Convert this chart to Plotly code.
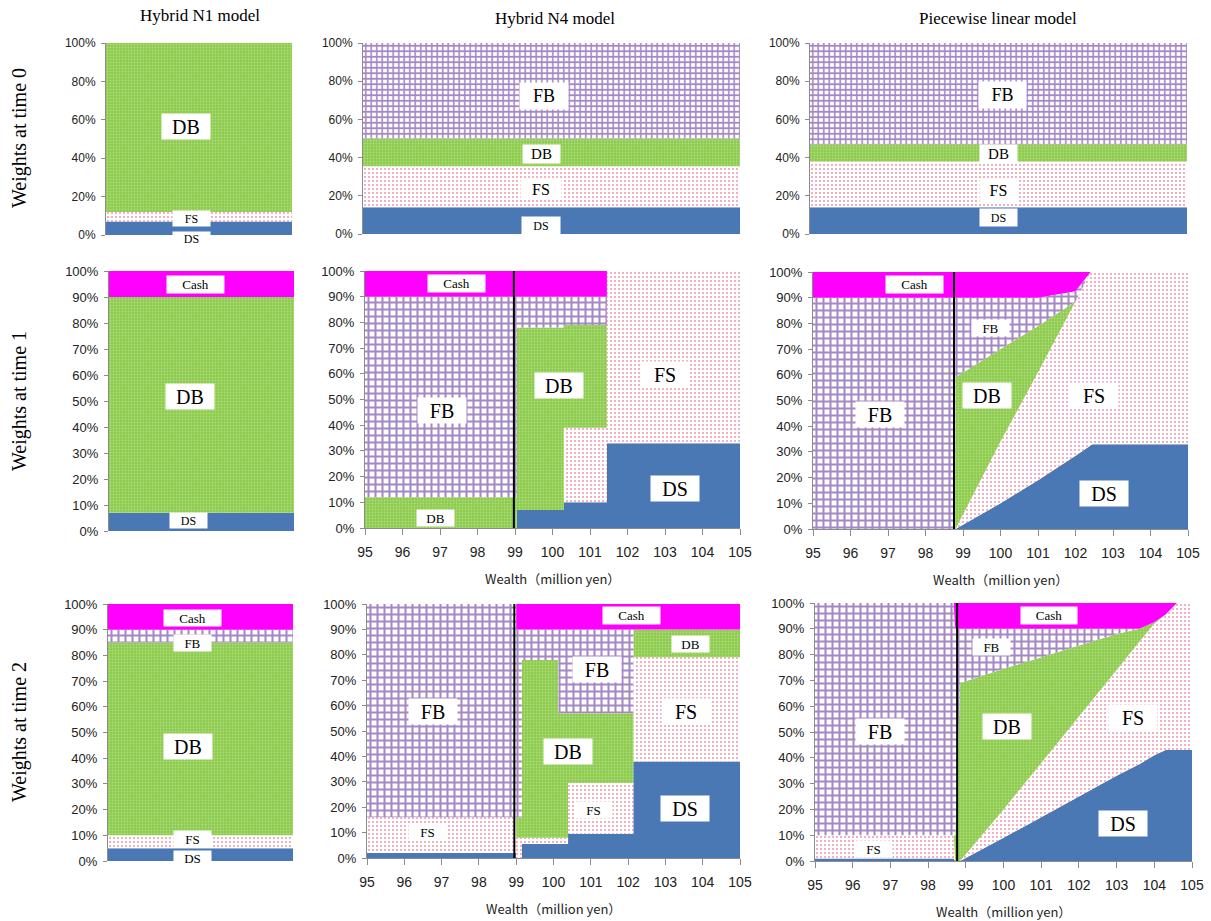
import plotly.graph_objects as go

W, H = 1211, 921

ASSETS = ["DS", "FS", "DB", "FB", "Cash"]
wealth_ticks = [95, 96, 97, 98, 99, 100, 101, 102, 103, 104, 105]

# ---- time 0: one portfolio per model (percent, order = ASSETS)
n1_t0 = [7, 5, 88, 0, 0]
n4_t0 = [14, 21.5, 14.5, 50, 0]
pl_t0 = [14, 24, 9, 53, 0]

# ---- Hybrid N1 model: a single portfolio at each later date
n1_t1 = [7, 0, 83, 0, 10]
n1_t2 = [5, 5, 75, 5, 10]

# ---- Hybrid N4 model, time 1 (weights held until the next wealth level)
n4_t1_wealth = [95, 99.05, 100.3, 101.45, 105]
n4_t1_ds = [0, 7, 10, 33, 33]
n4_t1_fs = [0, 0, 29, 67, 67]
n4_t1_db = [12, 71, 40, 0, 0]
n4_t1_fb = [78, 12, 11, 0, 0]
n4_t1_cash = [10, 10, 10, 0, 0]

# ---- Hybrid N4 model, time 2
n4_t2_wealth = [95, 99.0, 99.15, 100.13, 100.39, 102.14, 105]
n4_t2_ds = [2, 0, 5.5, 5.5, 9.5, 38, 38]
n4_t2_fs = [14, 8, 2.5, 2.5, 20, 41, 41]
n4_t2_db = [0, 8, 70, 49, 27.5, 11, 11]
n4_t2_fb = [84, 74, 12, 33, 33, 0, 0]
n4_t2_cash = [0, 10, 10, 10, 10, 10, 10]

# ---- Piecewise linear model, time 1
pl_t1_wealth = [95, 98.78, 98.8, 100, 101, 102, 102.4, 102.45, 105]
pl_t1_ds = [0, 0, 0, 10, 19, 28.5, 32.5, 33, 33]
pl_t1_fs = [0, 0, 0, 24, 42, 60, 67.5, 67, 67]
pl_t1_db = [0, 0, 59, 36, 18, 0, 0, 0, 0]
pl_t1_fb = [90, 90, 31, 20, 11, 4, 0, 0, 0]
pl_t1_cash = [10, 10, 10, 10, 10, 7.5, 0, 0, 0]

# ---- Piecewise linear model, time 2
pl_t2_wealth = [95, 98.68, 98.72, 98.85, 100, 101, 102, 103, 103.6, 104, 104.3, 104.6, 105]
pl_t2_ds = [1, 1, 0, 0, 9, 17, 25, 33, 37.5, 41, 43, 43, 43]
pl_t2_fs = [9, 9, 0, 0, 11, 21, 31, 41, 47.5, 51, 52.5, 57, 57]
pl_t2_db = [0, 0, 10, 69, 54.5, 41, 27.5, 14, 5, 0.5, 0, 0, 0]
pl_t2_fb = [90, 90, 80, 21, 15.5, 11, 6.5, 2, 0, 0, 0, 0, 0]
pl_t2_cash = [0, 0, 10, 10, 10, 10, 10, 10, 10, 7.5, 4.5, 0, 0]

# wealth at which the funding threshold is crossed
n4_t1_threshold = 98.97
n4_t2_threshold = 98.95
pl_t1_threshold = 98.76
pl_t2_threshold = 98.77

col_titles = ["Hybrid N1 model", "Hybrid N4 model", "Piecewise linear model"]
row_titles = ["Weights at time 0", "Weights at time 1", "Weights at time 2"]
x_title = "Wealth（million yen）"


def flat(weights, lo, hi):
    return [lo, hi], [[w, w] for w in weights]


def px_x(v):
    return v / W


def px_y(v):
    return 1 - v / H


SERIF = "Liberation Serif"
SANS = "Liberation Sans"

# label boxes: (text, x, y, font size, box width, box height, vertical nudge px)
BIG, SMALL = (20, 48, 25, 0), (13, 37, 16, 0)

panels = []
x, s = flat(n1_t0, 0, 1)
panels.append(dict(px=(106, 292, 43, 235), x=x, s=s, shape="linear", xr=[0, 1], dy=20,
                   axis=False, grid=5.5, thr=None,
                   labels=[("DB", 0.43, 56.5, *BIG), ("FS", 0.457, 8.7, 12, 37, 15, 0),
                           ("DS", 0.457, 0, 12, 37, 14, -4)]))
x, s = flat(n4_t0, 95, 105)
panels.append(dict(px=(363, 740, 43, 234), x=x, s=s, shape="linear", xr=[95, 105], dy=20,
                   axis=False, grid=5.5, thr=None,
                   labels=[("FB", 99.8, 72, 18, 48, 26, 0), ("DB", 99.73, 41.9, 15, 37, 18, 0),
                           ("FS", 99.73, 23.4, 16, 40, 20, 0), ("DS", 99.73, 4.7, 12, 38, 17, 0)]))
x, s = flat(pl_t0, 95, 105)
panels.append(dict(px=(810, 1187, 43, 234), x=x, s=s, shape="linear", xr=[95, 105], dy=20,
                   axis=False, grid=5.5, thr=None,
                   labels=[("FB", 100.1, 72.8, 18, 47, 26, 0), ("DB", 100.0, 42.2, 15, 37, 17, 0),
                           ("FS", 100.0, 23, 16, 37, 23, 0), ("DS", 100.0, 8.7, 12, 37, 17, 0)]))
x, s = flat(n1_t1, 0, 1)
panels.append(dict(px=(109, 294, 271, 531), x=x, s=s, shape="linear", xr=[0, 1], dy=10,
                   axis=False, grid=7, thr=None,
                   labels=[("Cash", 0.465, 95, 13, 57, 17, 0), ("DB", 0.44, 51.9, *BIG),
                           ("DS", 0.43, 4.2, 12, 37, 15, 0)]))
panels.append(dict(px=(365, 740, 271, 528), x=n4_t1_wealth,
                   s=[n4_t1_ds, n4_t1_fs, n4_t1_db, n4_t1_fb, n4_t1_cash], shape="hv",
                   xr=[95, 105], dy=10, axis=True, grid=7, thr=n4_t1_threshold,
                   labels=[("Cash", 97.45, 95, 13, 57, 17, 0), ("FB", 97.05, 45.9, *BIG),
                           ("DB", 96.89, 3.8, *SMALL), ("DB", 100.16, 55.3, *BIG),
                           ("FS", 103.0, 59.9, *BIG), ("DS", 103.27, 15.4, *BIG)]))
panels.append(dict(px=(813, 1188, 272, 529), x=pl_t1_wealth,
                   s=[pl_t1_ds, pl_t1_fs, pl_t1_db, pl_t1_fb, pl_t1_cash], shape="linear",
                   xr=[95, 105], dy=10, axis=True, grid=7, thr=pl_t1_threshold,
                   labels=[("Cash", 97.7, 95.2, 13, 57, 17, 0), ("FB", 99.74, 78.3, *SMALL),
                           ("FB", 96.79, 44.7, *BIG), ("DB", 99.63, 52.1, *BIG),
                           ("FS", 102.5, 52.1, *BIG), ("DS", 102.76, 13.9, *BIG)]))
x, s = flat(n1_t2, 0, 1)
panels.append(dict(px=(108, 293, 604, 861), x=x, s=s, shape="linear", xr=[0, 1], dy=10,
                   axis=False, grid=7, thr=None,
                   labels=[("Cash", 0.458, 94.7, 13, 57, 16, 0), ("FB", 0.458, 84.7, *SMALL),
                           ("DB", 0.434, 44.5, *BIG), ("FS", 0.458, 8.4, *SMALL),
                           ("DS", 0.458, 1.3, 13, 37, 14, 0)]))
panels.append(dict(px=(367, 740, 604, 858), x=n4_t2_wealth,
                   s=[n4_t2_ds, n4_t2_fs, n4_t2_db, n4_t2_fb, n4_t2_cash], shape="hv",
                   xr=[95, 105], dy=10, axis=True, grid=7, thr=n4_t2_threshold,
                   labels=[("Cash", 102.1, 95.4, 13, 57, 17, 0), ("FB", 101.17, 74.3, *BIG),
                           ("DB", 103.66, 84.3, *SMALL), ("FB", 96.76, 57.6, *BIG),
                           ("FS", 103.54, 57.6, *BIG), ("DB", 100.4, 42.1, *BIG),
                           ("FS", 101.07, 18.9, *SMALL), ("DS", 103.53, 19.3, *BIG),
                           ("FS", 96.62, 10.1, *SMALL)]))
panels.append(dict(px=(815, 1192, 603, 861), x=pl_t2_wealth,
                   s=[pl_t2_ds, pl_t2_fs, pl_t2_db, pl_t2_fb, pl_t2_cash], shape="linear",
                   xr=[95, 105], dy=10, axis=True, grid=7, thr=pl_t2_threshold,
                   labels=[("Cash", 101.22, 95.1, 13, 56, 17, 0), ("FB", 99.69, 82.8, *SMALL),
                           ("FB", 96.72, 50.1, *BIG), ("DB", 100.08, 52.1, *BIG),
                           ("FS", 103.43, 55.5, *BIG), ("DS", 103.16, 14.6, *BIG),
                           ("FS", 96.56, 4.65, *SMALL)]))


def fill_style(asset, grid):
    if asset == "DS":
        return dict(fillcolor="#4A78B4")
    if asset == "Cash":
        return dict(fillcolor="#FF00FF")
    if asset == "FS":
        return dict(fillcolor="white",
                    fillpattern=dict(shape=".", bgcolor="white", fgcolor="#DC3C64",
                                     size=4, solidity=0.22))
    if asset == "DB":
        return dict(fillcolor="#8CCB4C",
                    fillpattern=dict(shape=".", bgcolor="#8CCB4C", fgcolor="#D2EEB4",
                                     size=3, solidity=0.3))
    return dict(fillcolor="white",
                fillpattern=dict(shape="+", bgcolor="white", fgcolor="#4C108C",
                                 size=grid, solidity=0.5))


fig = go.Figure()
layout = dict(width=W, height=H, margin=dict(l=0, r=0, t=0, b=0, autoexpand=False),
              paper_bgcolor="white", plot_bgcolor="white", showlegend=False)
annotations, shapes = [], []

for i, p in enumerate(panels, start=1):
    xa = "x" if i == 1 else f"x{i}"
    ya = "y" if i == 1 else f"y{i}"
    for asset, vals in zip(ASSETS, p["s"]):
        fig.add_trace(go.Scatter(
            x=p["x"], y=vals, xaxis=xa, yaxis=ya, stackgroup=f"g{i}", mode="none",
            line=dict(shape=p["shape"], width=0), hoverinfo="skip", name=asset,
            **fill_style(asset, p["grid"])))

    l, r, t, b = p["px"]
    xkey = "xaxis" if i == 1 else f"xaxis{i}"
    ykey = "yaxis" if i == 1 else f"yaxis{i}"
    xaxis = dict(domain=[px_x(l), px_x(r)], range=p["xr"], anchor=ya, showgrid=False,
                 zeroline=False, fixedrange=True, automargin=False)
    if p["axis"]:
        xaxis.update(tickvals=wealth_ticks, showline=True, linecolor="#8c8c8c",
                     linewidth=1, ticks="outside", ticklen=6, tickcolor="#8c8c8c",
                     ticklabelstandoff=5, tickfont=dict(family=SANS, size=14, color="#222"))
        annotations.append(dict(text=x_title, xref="paper", yref="paper",
                                x=px_x((l + r) / 2), y=px_y(b + 50), showarrow=False,
                                xanchor="center", yanchor="middle",
                                font=dict(family="Noto Sans CJK JP", size=13, color="#222")))
    else:
        xaxis.update(visible=False)
    layout[xkey] = xaxis
    fsz = 12 if p["dy"] == 20 else 13
    yticks = list(range(0, 101, p["dy"]))
    layout[ykey] = dict(domain=[px_y(b), px_y(t)], range=[0, 100], anchor=xa,
                        tickmode="array", tickvals=yticks,
                        ticktext=[f"{v}%" for v in yticks], automargin=False,
                        showgrid=False, zeroline=False, showline=True, linecolor="#8c8c8c",
                        linewidth=1, ticks="outside", ticklen=4, tickcolor="#8c8c8c",
                        ticklabelstandoff=3, fixedrange=True,
                        tickfont=dict(family=SANS, size=fsz, color="#222"))

    if p["thr"] is not None:
        shapes.append(dict(type="line", xref=xa, yref=ya, x0=p["thr"], x1=p["thr"],
                           y0=0, y1=100, line=dict(color="black", width=2)))

    for text, lx, ly, size, bw, bh, nudge in p["labels"]:
        annotations.append(dict(text=text, x=lx, y=ly, xref=xa, yref=ya, showarrow=False,
                                xanchor="center", yanchor="middle", yshift=nudge,
                                bgcolor="white", borderpad=0, width=bw, height=bh,
                                font=dict(family=SERIF, size=size, color="black")))

# column and row headings
for text, cx, cy in zip(col_titles, [200, 555, 998], [15, 18, 18]):
    annotations.append(dict(text=text, xref="paper", yref="paper", x=px_x(cx), y=px_y(cy),
                            showarrow=False, xanchor="center", yanchor="middle",
                            font=dict(family=SERIF, size=17, color="black")))
for text, cy in zip(row_titles, [138, 401, 732]):
    annotations.append(dict(text=text, xref="paper", yref="paper", x=px_x(19), y=px_y(cy),
                            showarrow=False, textangle=-90, xanchor="center",
                            yanchor="middle",
                            font=dict(family=SERIF, size=20, color="black")))

layout["annotations"] = annotations
layout["shapes"] = shapes
fig.update_layout(**layout)
fig.write_html("out.html")
